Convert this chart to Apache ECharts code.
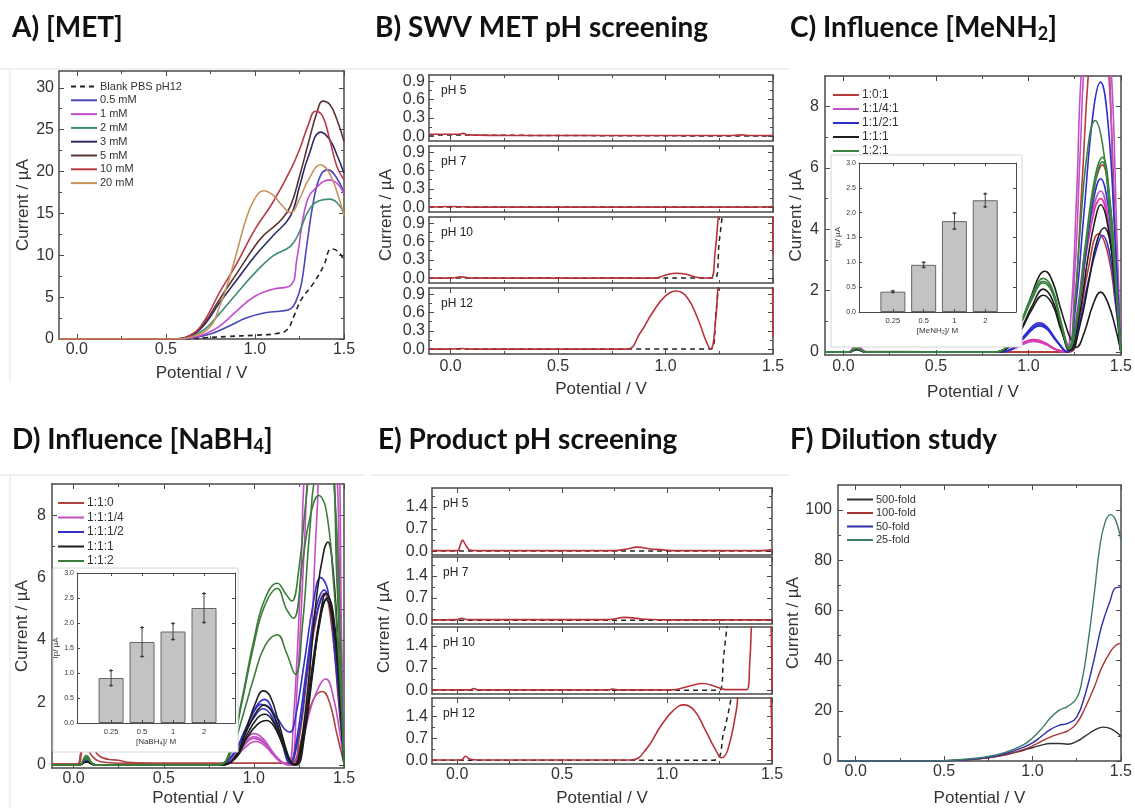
<!DOCTYPE html>
<html><head><meta charset="utf-8">
<script src="https://cdn.jsdelivr.net/npm/echarts@6/dist/echarts.min.js"></script>
<style>html,body{margin:0;padding:0;background:#fff}#c{width:1135px;height:808px}</style>
</head><body><div id="c"></div>
<script>
// ---------- ticks & tick labels ----------
const potTicks = [0, 0.5, 1.0, 1.5];
const potLabels = ['0.0', '0.5', '1.0', '1.5'];
const potMinor = [0.25, 0.75, 1.25];
const aTicks = [0, 5, 10, 15, 20, 25, 30];
const aLabels = ['0', '5', '10', '15', '20', '25', '30'];
const aMinor = [2.5, 7.5, 12.5, 17.5, 22.5, 27.5];
const bTicks = [0, 0.3, 0.6, 0.9];
const bLabels = ['0.0', '0.3', '0.6', '0.9'];
const bMinor = [0.15, 0.45, 0.75];
const cdTicks = [0, 2, 4, 6, 8];
const cdLabels = ['0', '2', '4', '6', '8'];
const cdMinor = [1, 3, 5, 7];
const eTicks = [0, 0.7, 1.4];
const eLabels = ['0.0', '0.7', '1.4'];
const eMinor = [0.35, 1.05, 1.75];
const fTicks = [0, 20, 40, 60, 80, 100];
const fLabels = ['0', '20', '40', '60', '80', '100'];
const fMinor = [10, 30, 50, 70, 90];
const insetTicks = [0, 0.5, 1.0, 1.5, 2.0, 2.5, 3.0];
const insetLabels = ['0.0', '0.5', '1.0', '1.5', '2.0', '2.5', '3.0'];

// ---------- A) [MET] ----------
const aNames = ['Blank PBS pH12', '0.5 mM', '1 mM', '2 mM', '3 mM', '5 mM', '10 mM', '20 mM'];
const A_blank = [[-0.1,0],[0.6,0],[0.72,0.15],[0.85,0.3],[1.0,0.45],[1.12,0.65],[1.18,1.1],[1.22,2.8],[1.26,4.7],[1.33,6.7],[1.385,8.7],[1.43,10.75],[1.47,10.4],[1.5,9.3]];
const A_05 = [[-0.1,0],[0.55,0],[0.65,0.15],[0.75,0.6],[0.85,1.5],[0.95,2.5],[1.05,3.1],[1.15,3.35],[1.2,3.6],[1.23,4.5],[1.26,6.5],[1.29,11],[1.33,16.6],[1.37,19.6],[1.41,20.2],[1.46,19.2],[1.5,17.4]];
const A_1 = [[-0.1,0],[0.55,0],[0.65,0.2],[0.72,0.6],[0.8,1.5],[0.9,3.4],[1.0,5.1],[1.1,5.95],[1.2,6.4],[1.235,9.5],[1.29,16.3],[1.35,18.2],[1.42,19.0],[1.46,18.6],[1.5,17.4]];
const A_2 = [[-0.1,0],[0.55,0],[0.65,0.4],[0.72,1.2],[0.8,3.0],[0.9,5.5],[1.0,7.9],[1.1,9.9],[1.2,11.1],[1.25,12.8],[1.3,15.3],[1.36,16.5],[1.42,16.7],[1.46,16.3],[1.5,15.0]];
const A_3 = [[-0.1,0],[0.55,0],[0.65,0.5],[0.72,1.8],[0.8,4.3],[0.9,7.1],[1.0,9.9],[1.1,12.3],[1.2,14.7],[1.25,18.2],[1.3,21.8],[1.37,24.7],[1.42,23.8],[1.46,22],[1.5,19.8]];
const A_5 = [[-0.1,0],[0.55,0],[0.65,0.6],[0.72,2.0],[0.8,4.7],[0.9,7.9],[1.0,11.1],[1.05,12.4],[1.1,13.3],[1.15,14.3],[1.2,15.9],[1.25,19.4],[1.3,23.4],[1.35,27.2],[1.38,28.4],[1.42,28],[1.46,26.2],[1.5,23.6]];
const A_10 = [[-0.1,0],[0.55,0],[0.65,0.6],[0.72,2.3],[0.8,5.5],[0.9,9.1],[1.0,13.1],[1.1,16.3],[1.2,20.2],[1.25,22.6],[1.3,25.6],[1.34,27.2],[1.38,26.6],[1.42,23.8],[1.46,20.6],[1.5,19]];
const A_20 = [[-0.1,0],[0.55,0],[0.65,0.3],[0.75,1.5],[0.8,3.8],[0.85,6.8],[0.9,10.5],[0.95,14.3],[1.0,16.8],[1.05,17.7],[1.1,17.2],[1.15,16.0],[1.2,15.1],[1.25,16.7],[1.3,19.0],[1.37,20.8],[1.42,19.7],[1.46,17.6],[1.5,14.7]];

// ---------- B) SWV MET pH screening ----------
const bPanels = ['pH 5', 'pH 7', 'pH 10', 'pH 12'];
const B5_red = [[-0.1,0.03],[0.0,0.03],[0.04,0.03],[0.06,0.045],[0.08,0.02],[0.3,0.01],[1.3,0.01],[1.35,0.02],[1.4,0.01],[1.5,0.01]];
const B5_blank = [[-0.1,0.02],[0.5,0.01],[1.5,0.0]];
const B7_red = [[-0.1,0.0],[0.0,0.01],[0.1,0.0],[1.4,0.0],[1.5,0.01]];
const B7_blank = [[-0.1,0],[1.5,0]];
const B10_red = [[-0.1,0.0],[0.0,0.0],[0.05,0.02],[0.1,0.0],[0.95,0.0],[1.0,0.05],[1.05,0.08],[1.1,0.06],[1.15,0.01],[1.21,0.0],[1.23,0.4],[1.25,1.2],[1.3,3],[1.45,3],[1.49,2],[1.5,0.4]];
const B10_blank = [[-0.1,0],[1.23,0],[1.25,0.6],[1.27,1.2]];
const B12_red = [[-0.1,0.0],[0.0,0.0],[0.05,0.01],[0.1,0.0],[0.82,0.0],[0.88,0.25],[0.94,0.6],[1.0,0.87],[1.05,0.95],[1.1,0.85],[1.15,0.5],[1.19,0.12],[1.21,0.0],[1.23,0.35],[1.25,1.3],[1.3,3],[1.45,3],[1.5,0.2]];
const B12_blank = [[-0.1,0],[1.21,0],[1.235,0.6],[1.25,1.3]];

// ---------- C) Influence [MeNH2] ----------
const cNames = ['1:0:1', '1:1/4:1', '1:1/2:1', '1:1:1', '1:2:1'];
const C_red1 = [[-0.1,0],[0.03,0],[0.07,0.1],[0.12,0],[1.21,0],[1.25,1.5],[1.29,5.5],[1.33,9.5],[1.38,12],[1.43,9.5],[1.47,4],[1.5,0]];
const C_red2 = [[-0.1,0],[0.03,0],[0.07,0.15],[0.12,0],[1.22,0],[1.27,1.2],[1.32,3.8],[1.36,5.5],[1.4,6.1],[1.44,4.8],[1.47,2.3],[1.5,0]];
const C_red3 = [[-0.1,0],[0.03,0],[0.07,0.1],[0.12,0],[1.22,0],[1.27,0.9],[1.32,2.6],[1.38,3.85],[1.43,3.2],[1.47,1.6],[1.5,0]];
const C_mag1 = [[-0.1,0],[0.03,0],[0.07,0.32],[0.12,0.02],[0.85,0],[0.92,0.1],[0.98,0.3],[1.03,0.38],[1.09,0.28],[1.15,0.08],[1.2,0],[1.23,1.2],[1.26,5],[1.29,9.5],[1.35,13],[1.42,11],[1.46,5],[1.5,0]];
const C_mag2 = [[-0.1,0],[0.03,0],[0.07,0.25],[0.12,0],[0.85,0],[0.92,0.1],[0.98,0.27],[1.03,0.34],[1.09,0.25],[1.15,0.07],[1.21,0],[1.25,2.5],[1.28,6.5],[1.31,10],[1.38,13],[1.44,10],[1.48,3.5],[1.5,0]];
const C_mag3 = [[-0.1,0],[0.03,0],[0.07,0.22],[0.12,0],[0.85,0],[0.92,0.1],[0.98,0.28],[1.03,0.35],[1.09,0.26],[1.15,0.07],[1.21,0],[1.26,1.2],[1.31,3.5],[1.36,4.9],[1.39,5.25],[1.43,4.4],[1.47,2.0],[1.5,0]];
const C_pink = [[-0.1,0],[0.03,0],[0.07,0.28],[0.12,0],[0.85,0],[0.92,0.12],[0.98,0.33],[1.03,0.4],[1.09,0.3],[1.15,0.08],[1.21,0],[1.26,1.0],[1.31,3.1],[1.36,4.7],[1.39,5.0],[1.43,4.2],[1.47,2.0],[1.5,0]];
const C_blu1 = [[-0.1,0],[0.03,0],[0.07,0.12],[0.12,0],[0.85,0],[0.92,0.15],[0.98,0.55],[1.03,0.88],[1.06,0.95],[1.1,0.82],[1.15,0.4],[1.21,0],[1.25,1.2],[1.3,4.5],[1.35,7.8],[1.39,8.8],[1.43,7.5],[1.47,3.5],[1.5,0]];
const C_blu2 = [[-0.1,0],[0.03,0],[0.07,0.1],[0.12,0],[0.85,0],[0.92,0.14],[0.98,0.5],[1.03,0.82],[1.06,0.9],[1.1,0.78],[1.15,0.38],[1.21,0],[1.26,1.0],[1.31,3.2],[1.35,4.9],[1.39,5.65],[1.43,4.8],[1.47,2.3],[1.5,0]];
const C_blu3 = [[-0.1,0],[0.03,0],[0.07,0.1],[0.12,0],[0.85,0],[0.92,0.13],[0.98,0.47],[1.03,0.78],[1.06,0.85],[1.1,0.74],[1.15,0.36],[1.21,0],[1.27,0.8],[1.32,2.2],[1.37,3.4],[1.4,3.8],[1.44,3.2],[1.47,1.7],[1.5,0]];
const C_blk1 = [[-0.1,0],[0.03,0],[0.07,0.08],[0.12,0],[0.82,0],[0.9,0.25],[0.96,0.95],[1.02,1.9],[1.06,2.5],[1.09,2.63],[1.13,2.3],[1.17,1.5],[1.2,0.9],[1.23,0.4],[1.26,0.15],[1.3,0.6],[1.35,1.55],[1.39,1.95],[1.43,1.6],[1.47,0.8],[1.5,0]];
const C_blk2 = [[-0.1,0],[0.03,0],[0.07,0.08],[0.12,0],[0.82,0],[0.9,0.2],[0.96,0.75],[1.02,1.5],[1.08,2.05],[1.13,1.7],[1.18,0.7],[1.22,0.05],[1.27,1.0],[1.32,3.0],[1.36,4.3],[1.39,4.8],[1.43,4.1],[1.47,2.0],[1.5,0]];
const C_blk3 = [[-0.1,0],[0.03,0],[0.07,0.08],[0.12,0],[0.82,0],[0.9,0.18],[0.96,0.7],[1.02,1.4],[1.08,1.85],[1.13,1.55],[1.18,0.65],[1.23,0.05],[1.28,0.9],[1.33,2.4],[1.37,3.6],[1.41,4.05],[1.45,3.3],[1.48,1.6],[1.5,0]];
const C_grn1 = [[-0.1,0],[0.03,0],[0.07,0.15],[0.12,0],[0.82,0],[0.9,0.3],[0.96,1.0],[1.02,1.85],[1.08,2.4],[1.13,2.05],[1.18,0.9],[1.22,0.15],[1.25,1.5],[1.28,4.0],[1.32,6.6],[1.36,7.55],[1.4,6.8],[1.44,4.5],[1.48,1.5],[1.5,0]];
const C_grn2 = [[-0.1,0],[0.03,0],[0.07,0.12],[0.12,0],[0.82,0],[0.9,0.28],[0.96,0.95],[1.02,1.78],[1.08,2.3],[1.13,1.98],[1.18,0.85],[1.22,0.1],[1.26,1.0],[1.31,3.6],[1.36,5.7],[1.4,6.35],[1.44,5.0],[1.48,1.8],[1.5,0]];
const C_grn3 = [[-0.1,0],[0.03,0],[0.07,0.12],[0.12,0],[0.82,0],[0.9,0.27],[0.96,0.92],[1.02,1.72],[1.08,2.25],[1.13,1.92],[1.18,0.82],[1.22,0.1],[1.26,0.95],[1.31,3.4],[1.36,5.5],[1.4,6.2],[1.44,4.9],[1.48,1.8],[1.5,0]];
// inset C
const mehCats = ['0.25', '0.5', '1', '2'];
const mehVals = [0.41, 0.95, 1.83, 2.25];
const mehErr = [0.015, 0.05, 0.16, 0.13];

// ---------- D) Influence [NaBH4] ----------
const dNames = ['1:1:0', '1:1:1/4', '1:1:1/2', '1:1:1', '1:1:2'];
const D_red1 = [[-0.12,0.03],[0.02,0.03],[0.04,0.4],[0.07,0.85],[0.1,0.65],[0.14,0.3],[0.2,0.17],[0.25,0.15],[0.3,0.08],[0.5,0.05],[1.2,0.05],[1.24,0.3],[1.28,1.2],[1.33,2.1],[1.38,2.35],[1.42,2.0],[1.46,1.0],[1.5,0.05]];
const D_red2 = [[-0.12,0.03],[0.02,0.03],[0.05,0.5],[0.07,0.55],[0.1,0.3],[0.15,0.1],[0.3,0.05],[1.21,0.05],[1.25,0.8],[1.3,3.0],[1.35,4.8],[1.39,5.5],[1.43,4.5],[1.47,2.0],[1.5,0.05]];
const D_mag1 = [[-0.12,0],[0.03,0],[0.07,0.2],[0.12,0],[0.8,0],[0.88,0.2],[0.94,0.7],[1.0,1.0],[1.05,0.85],[1.1,0.45],[1.15,0.12],[1.19,0],[1.22,1.5],[1.26,6],[1.29,10],[1.36,12],[1.44,11],[1.48,5],[1.5,0]];
const D_mag2 = [[-0.12,0],[0.03,0],[0.07,0.15],[0.12,0],[0.8,0],[0.88,0.18],[0.94,0.62],[1.0,0.9],[1.05,0.78],[1.1,0.4],[1.15,0.1],[1.2,0],[1.24,2.5],[1.28,7],[1.31,10],[1.38,12],[1.43,10.5],[1.47,5],[1.5,0]];
const D_mag3 = [[-0.12,0],[0.03,0],[0.07,0.15],[0.12,0],[0.8,0],[0.88,0.16],[0.94,0.58],[1.0,0.85],[1.05,0.73],[1.1,0.38],[1.15,0.1],[1.21,0],[1.26,0.6],[1.32,1.9],[1.37,2.6],[1.4,2.75],[1.44,2.2],[1.48,0.9],[1.5,0]];
const D_mag4 = [[-0.12,0],[0.03,0],[0.07,0.12],[0.12,0],[0.8,0],[0.88,0.14],[0.95,0.55],[1.01,0.75],[1.06,0.62],[1.11,0.3],[1.16,0.06],[1.22,0],[1.27,0.6],[1.31,3],[1.35,8],[1.39,11],[1.45,11],[1.49,3],[1.5,0]];
const D_blu1 = [[-0.12,0],[0.03,0],[0.07,0.15],[0.12,0],[0.8,0],[0.88,0.3],[0.95,1.1],[1.0,1.7],[1.04,1.94],[1.08,1.85],[1.13,1.5],[1.17,1.15],[1.2,1.05],[1.23,1.5],[1.28,3.3],[1.33,5.2],[1.37,6.0],[1.41,5.6],[1.45,3.5],[1.48,1.5],[1.5,0]];
const D_blu2 = [[-0.12,0],[0.03,0],[0.07,0.12],[0.12,0],[0.8,0],[0.88,0.3],[0.95,1.1],[1.01,1.85],[1.06,2.1],[1.1,1.8],[1.15,0.9],[1.2,0.05],[1.24,0.9],[1.29,3.0],[1.34,4.9],[1.39,5.6],[1.43,4.9],[1.47,2.5],[1.5,0]];
const D_blu3 = [[-0.12,0],[0.03,0],[0.07,0.1],[0.12,0],[0.8,0],[0.88,0.28],[0.95,1.0],[1.01,1.6],[1.05,1.8],[1.1,1.55],[1.15,0.8],[1.2,0.05],[1.25,1.0],[1.3,3.2],[1.35,4.9],[1.4,5.5],[1.44,4.6],[1.48,2.0],[1.5,0]];
const D_blk1 = [[-0.12,0],[0.03,0],[0.07,0.1],[0.12,0],[0.82,0],[0.9,0.3],[0.96,1.2],[1.01,2.0],[1.05,2.37],[1.09,2.2],[1.14,1.3],[1.19,0.3],[1.22,0],[1.25,0.3],[1.3,2.5],[1.35,5.5],[1.39,6.9],[1.41,7.14],[1.44,6.2],[1.47,3.5],[1.5,0]];
const D_blk2 = [[-0.12,0],[0.03,0],[0.07,0.1],[0.12,0],[0.82,0],[0.9,0.25],[0.96,0.95],[1.02,1.5],[1.06,1.62],[1.1,1.45],[1.15,0.8],[1.2,0.1],[1.23,0],[1.27,0.8],[1.32,3.0],[1.37,4.9],[1.4,5.5],[1.44,4.7],[1.48,2.0],[1.5,0]];
const D_blk3 = [[-0.12,0],[0.03,0],[0.07,0.1],[0.12,0],[0.82,0],[0.9,0.22],[0.96,0.85],[1.02,1.3],[1.07,1.42],[1.11,1.25],[1.16,0.65],[1.21,0.05],[1.24,0],[1.28,0.9],[1.33,3.1],[1.37,4.8],[1.41,5.35],[1.45,4.4],[1.48,2.0],[1.5,0]];
const D_blk4 = [[-0.12,0],[0.03,0],[0.07,0.1],[0.12,0],[0.82,0],[0.9,0.28],[0.96,1.1],[1.02,1.75],[1.06,1.92],[1.1,1.7],[1.15,0.95],[1.2,0.15],[1.23,0],[1.27,0.7],[1.32,2.8],[1.37,4.7],[1.4,5.3],[1.44,4.5],[1.48,1.9],[1.5,0]];
const D_grn1 = [[-0.12,0],[0.03,0],[0.07,0.3],[0.12,0],[0.8,0],[0.87,0.5],[0.93,2.0],[1.0,4.0],[1.06,5.3],[1.13,5.82],[1.18,5.45],[1.21,5.25],[1.25,6.3],[1.29,8.5],[1.33,10.2],[1.4,10.5],[1.45,8.5],[1.48,4],[1.5,0]];
const D_grn2 = [[-0.12,0],[0.03,0],[0.07,0.25],[0.12,0],[0.8,0],[0.87,0.45],[0.93,1.9],[1.0,3.85],[1.06,5.1],[1.13,5.65],[1.18,5.0],[1.22,4.7],[1.27,6.5],[1.31,7.9],[1.36,8.63],[1.4,8.2],[1.44,6.0],[1.48,2.5],[1.5,0]];
const D_grn3 = [[-0.12,0],[0.03,0],[0.07,0.2],[0.12,0],[0.8,0],[0.87,0.35],[0.93,1.4],[1.0,2.8],[1.06,3.8],[1.13,4.17],[1.18,3.6],[1.23,2.9],[1.27,4.5],[1.31,7.5],[1.35,9.5],[1.42,10],[1.46,6],[1.5,0]];
// inset D
const nabCats = ['0.25', '0.5', '1', '2'];
const nabVals = [0.9, 1.62, 1.83, 2.3];
const nabErr = [0.15, 0.29, 0.16, 0.29];

// ---------- E) Product pH screening ----------
const E5_red = [[-0.12,0.02],[0.0,0.02],[0.015,0.2],[0.025,0.35],[0.04,0.2],[0.06,0.04],[0.1,0.02],[0.75,0.02],[0.8,0.06],[0.86,0.13],[0.92,0.07],[0.97,0.05],[1.02,0.02],[1.45,0.02],[1.5,0.05]];
const E5_blank = [[-0.12,0.01],[1.5,0.01]];
const E7_red = [[-0.12,0.01],[0.0,0.02],[0.02,0.06],[0.05,0.02],[0.72,0.02],[0.8,0.09],[0.88,0.04],[1.0,0.01],[1.5,0.01]];
const E7_blank = [[-0.12,0],[1.5,0]];
const E10_red = [[-0.12,0.01],[0.06,0.01],[0.08,0.05],[0.1,0.01],[0.72,0.01],[0.74,0.04],[0.77,0.01],[1.02,0.01],[1.1,0.12],[1.17,0.21],[1.23,0.12],[1.28,0.02],[1.38,0.02],[1.395,1.0],[1.41,2.5],[1.47,4],[1.49,3],[1.5,0]];
const E10_blank = [[-0.12,0],[1.25,0],[1.27,1.1],[1.29,2.3]];
const E12_red = [[-0.12,0.01],[0.02,0.01],[0.04,0.13],[0.06,0.04],[0.1,0.01],[0.83,0.01],[0.9,0.35],[0.97,1.1],[1.03,1.6],[1.08,1.78],[1.13,1.6],[1.18,1.0],[1.23,0.35],[1.26,0.08],[1.29,0.35],[1.33,1.6],[1.35,2.5],[1.48,4],[1.495,2],[1.5,0.0]];
const E12_blank = [[-0.12,0],[1.22,0],[1.27,0.9],[1.31,2.2]];

// ---------- F) Dilution study ----------
const fNames = ['500-fold', '100-fold', '50-fold', '25-fold'];
const F_500 = [[-0.1,0],[0.45,0],[0.55,0.2],[0.65,0.6],[0.75,1.3],[0.85,2.5],[0.95,4.3],[1.0,5.3],[1.05,6.3],[1.1,7],[1.15,7],[1.2,6.7],[1.25,7.8],[1.3,10],[1.35,12.3],[1.4,13.5],[1.45,12.6],[1.5,9.9]];
const F_100 = [[-0.1,0],[0.45,0],[0.55,0.2],[0.65,0.6],[0.75,1.3],[0.85,2.6],[0.95,4.6],[1.0,6],[1.05,7.8],[1.1,9.5],[1.15,10.8],[1.2,12],[1.25,15],[1.3,21.5],[1.35,29.5],[1.39,37],[1.44,43.5],[1.47,46],[1.5,47]];
const F_50 = [[-0.1,0],[0.45,0],[0.55,0.2],[0.65,0.7],[0.75,1.5],[0.85,3],[0.95,5.5],[1.0,7.2],[1.05,9.8],[1.1,12.5],[1.15,14.2],[1.2,15],[1.25,17.5],[1.3,27],[1.35,41],[1.39,53.5],[1.44,64],[1.47,69],[1.5,69.3]];
const F_25 = [[-0.1,0],[0.45,0],[0.55,0.3],[0.65,0.9],[0.75,1.8],[0.85,3.5],[0.95,6.5],[1.0,9.2],[1.05,12.8],[1.1,17],[1.15,20.2],[1.2,21.8],[1.25,25],[1.28,32],[1.31,45],[1.35,67],[1.38,85],[1.41,95],[1.44,98.2],[1.47,96],[1.5,88]];

// ================= build =================
const SANS = '"Liberation Sans", Arial, sans-serif';
const TXT = '#333';
const FRAME = '#4a4a4a';
const grids = [], xAxes = [], yAxes = [], series = [], legends = [], gfx = [];

function lab(ticks, labels) {
  return v => { for (let i = 0; i < ticks.length; i++) if (Math.abs(ticks[i] - v) < 1e-9) return labels[i]; return ''; };
}
function mkAxis(gi, s, pos, main, z) {
  return {
    type: 'value', gridIndex: gi, position: pos, min: s.min, max: s.max, z: z,
    axisLine: { show: true, onZero: false, lineStyle: { color: FRAME, width: s.lw || 1.5 } },
    axisTick: { show: true, inside: true, length: s.tl || 5, customValues: s.ticks, lineStyle: { color: FRAME, width: 1 } },
    axisLabel: { show: main && !!s.labels, customValues: s.ticks, formatter: s.labels ? lab(s.ticks, s.labels) : '',
      margin: s.margin == null ? 4 : s.margin, fontSize: s.fs || 16, color: TXT, fontFamily: SANS },
    splitLine: { show: false },
    name: main ? (s.name || '') : '', nameLocation: 'middle', nameGap: s.gap || 25,
    nameTextStyle: { fontSize: s.nfs || 17, color: TXT, fontFamily: SANS }
  };
}
function mkMinor(gi, s, pos, z) {
  return { type: 'value', gridIndex: gi, position: pos, min: s.min, max: s.max, z: z,
    axisLine: { show: false, onZero: false }, axisLabel: { show: false }, splitLine: { show: false },
    axisTick: { show: true, inside: true, length: 3, customValues: s.minor, lineStyle: { color: FRAME, width: 1 } } };
}
function panel(rect, xs, ys, z) {
  z = z || 0;
  const gi = grids.length;
  grids.push({ left: rect[0], top: rect[1], width: rect[2], height: rect[3], z: z, show: false });
  const xi = xAxes.length, yi = yAxes.length;
  xAxes.push(mkAxis(gi, xs, 'bottom', true, z), mkAxis(gi, xs, 'top', false, z));
  yAxes.push(mkAxis(gi, ys, 'left', true, z), mkAxis(gi, ys, 'right', false, z));
  if (xs.minor) xAxes.push(mkMinor(gi, xs, 'bottom', z), mkMinor(gi, xs, 'top', z));
  if (ys.minor) yAxes.push(mkMinor(gi, ys, 'left', z), mkMinor(gi, ys, 'right', z));
  return { xi: xi, yi: yi };
}
function addLine(p, name, data, color, o) {
  o = o || {};
  series.push({ type: 'line', name: name, data: data, xAxisIndex: p.xi, yAxisIndex: p.yi,
    symbol: 'none', smooth: 0.45, clip: true, silent: true, z: o.z || 2,
    lineStyle: { color: color, width: o.w || 1.6, type: o.dash ? [5, 4] : 'solid' }, itemStyle: { color: color } });
}
function addLegend(names, left, top, fs, gap) {
  legends.push({ data: names, left: left, top: top, orient: 'vertical', padding: 0, itemGap: gap,
    itemWidth: 26, itemHeight: 10, selectedMode: false, itemStyle: { opacity: 0, borderWidth: 0 },
    textStyle: { fontSize: fs, color: TXT, fontFamily: SANS, padding: [0, 0, 0, -2] } });
}
function addInset(rect, outer, cats, vals, errs, xname) {
  gfx.push({ type: 'rect', shape: { x: outer[0], y: outer[1], width: outer[2], height: outer[3] },
    style: { fill: '#fff', stroke: '#d6d6d6', lineWidth: 1 }, z: 15 });
  const xs = { min: -0.1, max: 5, ticks: [1, 2, 3, 4], labels: cats, fs: 7.5, margin: 5, tl: 3, lw: 1,
    name: xname, gap: 15, nfs: 8 };
  const ys = { min: 0, max: 3, ticks: insetTicks, labels: insetLabels, fs: 7, margin: 3, tl: 3, lw: 1,
    name: 'Ip/ µA', gap: 17, nfs: 8 };
  const p = panel(rect, xs, ys, 30);
  series.push({ type: 'bar', data: vals.map((v, i) => [i + 1, v]), xAxisIndex: p.xi, yAxisIndex: p.yi,
    barWidth: 25, z: 30, silent: true, itemStyle: { color: '#c3c3c3', borderColor: '#666', borderWidth: 1 } });
  series.push({ type: 'custom', data: vals.map((v, i) => [i + 1, v, errs[i]]), xAxisIndex: p.xi, yAxisIndex: p.yi,
    z: 31, silent: true,
    renderItem: function (params, api) {
      const x = api.value(0), y = api.value(1), e = api.value(2);
      const t = api.coord([x, y + e]), b = api.coord([x, y - e]);
      const st = { stroke: '#444', lineWidth: 1 };
      return { type: 'group', children: [
        { type: 'line', shape: { x1: t[0], y1: t[1], x2: b[0], y2: b[1] }, style: st },
        { type: 'line', shape: { x1: t[0] - 2, y1: t[1], x2: t[0] + 2, y2: t[1] }, style: st },
        { type: 'line', shape: { x1: b[0] - 2, y1: b[1], x2: b[0] + 2, y2: b[1] }, style: st },
        { type: 'circle', shape: { cx: t[0], cy: t[1], r: 1.2 }, style: { fill: '#444' } },
        { type: 'circle', shape: { cx: b[0], cy: b[1], r: 1.2 }, style: { fill: '#444' } }
      ] };
    } });
}
function title(x, y, text, rich) {
  gfx.push({ type: 'text', x: x, y: y, z: 50, style: { text: text, fill: '#111', fontFamily: 'Lato, "Open Sans", sans-serif',
    fontWeight: 'bold', fontSize: 28, verticalAlign: 'middle', rich: rich || {} } });
}
function vtext(x, y, text) {
  gfx.push({ type: 'text', x: x, y: y, rotation: Math.PI / 2, z: 50,
    style: { text: text, fill: TXT, fontFamily: SANS, fontSize: 17, align: 'center', verticalAlign: 'middle' } });
}
function hline(x1, x2, y) { gfx.push({ type: 'line', shape: { x1: x1, y1: y, x2: x2, y2: y }, style: { stroke: '#e3e3e3', lineWidth: 1 }, z: 1 }); }
function vline(x, y1, y2) { gfx.push({ type: 'line', shape: { x1: x, y1: y1, x2: x, y2: y2 }, style: { stroke: '#e3e3e3', lineWidth: 1 }, z: 1 }); }

const xPot = (min, name, gap, margin) => ({ min: min, max: 1.5, ticks: potTicks, minor: potMinor, labels: name ? potLabels : null, name: name ? 'Potential / V' : '', gap: gap, margin: margin });

// ---- A ----
const pA = panel([59, 71, 285, 268], xPot(-0.1, true, 26, 3), { min: 0, max: 32, ticks: aTicks, minor: aMinor, labels: aLabels, name: 'Current / µA', gap: 23, margin: 5 });
const aColors = ['#222', '#4848b8', '#c44ccc', '#3e8c78', '#2c2c62', '#5e3232', '#b83a48', '#c8925c'];
const aData = [A_blank, A_05, A_1, A_2, A_3, A_5, A_10, A_20];
aData.forEach((d, i) => addLine(pA, aNames[i], d, aColors[i], { dash: i === 0 }));
addLegend(aNames, 70, 81, 11, 2.8);

// ---- B ----
const bTops = [75, 146, 217, 288];
const bRed = [B5_red, B7_red, B10_red, B12_red];
const bBlank = [B5_blank, B7_blank, B10_blank, B12_blank];
bTops.forEach((t, i) => {
  const last = i === 3;
  const p = panel([429, t, 344, 66], xPot(-0.1, last, 27, 5), { min: -0.08, max: 1.0, ticks: bTicks, minor: bMinor, labels: bLabels, margin: 4 });
  addLine(p, '', bBlank[i], '#222', { dash: true, w: 1.5 });
  addLine(p, '', bRed[i], '#b8323c', { w: 1.6 });
  gfx.push({ type: 'text', x: 441, y: t + 16, z: 50, style: { text: bPanels[i], fill: '#222', fontFamily: SANS, fontSize: 12, verticalAlign: 'middle' } });
});
vtext(386, 215, 'Current / µA');

// ---- C ----
const pC = panel([825, 76, 301, 279], xPot(-0.1, true, 29, 4), { min: -0.1, max: 9, ticks: cdTicks, minor: cdMinor, labels: cdLabels, name: 'Current / µA', gap: 20, margin: 6 });
const cRed = '#b83a3a', cMag = '#c052c6', cBlu = '#2d2dd0', cBlk = '#1c1c1c', cGrn = '#3a8242', cPink = '#ec2aa0';
addLine(pC, cNames[0], C_red1, cRed); addLine(pC, cNames[0], C_red2, cRed); addLine(pC, cNames[0], C_red3, cRed);
addLine(pC, cNames[1], C_mag1, cMag); addLine(pC, cNames[1], C_mag2, cMag); addLine(pC, cNames[1], C_mag3, cMag); addLine(pC, cNames[1], C_pink, cPink);
addLine(pC, cNames[2], C_blu1, cBlu); addLine(pC, cNames[2], C_blu2, cBlu); addLine(pC, cNames[2], C_blu3, cBlu);
addLine(pC, cNames[3], C_blk1, cBlk); addLine(pC, cNames[3], C_blk2, cBlk); addLine(pC, cNames[3], C_blk3, cBlk);
addLine(pC, cNames[4], C_grn1, cGrn); addLine(pC, cNames[4], C_grn2, cGrn); addLine(pC, cNames[4], C_grn3, cGrn);
addLegend(cNames, 832, 89, 12, 2);
addInset([859, 163, 157, 149], [831, 155, 191, 192], mehCats, mehVals, mehErr, '[MeNH₂]/ M');

// ---- D ----
const pD = panel([52, 484, 292, 285], xPot(-0.12, true, 22, 3), { min: -0.1, max: 9, ticks: cdTicks, minor: cdMinor, labels: cdLabels, name: 'Current / µA', gap: 21, margin: 6 });
const dRed = '#b04242', dMag = '#c24fc2', dBlu = '#3030c4', dBlk = '#1c1c1c', dGrn = '#3b7c3b';
addLine(pD, dNames[0], D_red1, dRed); addLine(pD, dNames[0], D_red2, dRed);
addLine(pD, dNames[1], D_mag1, dMag); addLine(pD, dNames[1], D_mag2, dMag); addLine(pD, dNames[1], D_mag3, dMag); addLine(pD, dNames[1], D_mag4, dMag);
addLine(pD, dNames[2], D_blu1, dBlu); addLine(pD, dNames[2], D_blu2, dBlu); addLine(pD, dNames[2], D_blu3, dBlu);
addLine(pD, dNames[3], D_blk1, dBlk); addLine(pD, dNames[3], D_blk2, dBlk); addLine(pD, dNames[3], D_blk3, dBlk); addLine(pD, dNames[3], D_blk4, dBlk);
addLine(pD, dNames[4], D_grn1, dGrn); addLine(pD, dNames[4], D_grn2, dGrn); addLine(pD, dNames[4], D_grn3, dGrn);
addLegend(dNames, 57, 497, 12, 2.5);
addInset([77, 573, 158, 150], [53, 568, 185, 184], nabCats, nabVals, nabErr, '[NaBH₄]/ M');

// ---- E ----
const eTops = [488, 557, 627, 698];
const eRed = [E5_red, E7_red, E10_red, E12_red];
const eBlank = [E5_blank, E7_blank, E10_blank, E12_blank];
eTops.forEach((t, i) => {
  const last = i === 3;
  const p = panel([432, t, 340, 67], xPot(-0.12, last, 26, 3), { min: -0.12, max: 2.0, ticks: eTicks, minor: eMinor, labels: eLabels, margin: 4 });
  addLine(p, '', eBlank[i], '#222', { dash: true, w: 1.5 });
  addLine(p, '', eRed[i], '#b8323c', { w: 1.6 });
  gfx.push({ type: 'text', x: 443, y: t + 16, z: 50, style: { text: bPanels[i], fill: '#222', fontFamily: SANS, fontSize: 12, verticalAlign: 'middle' } });
});
vtext(384, 627, 'Current / µA');

// ---- F ----
const pF = panel([838, 485, 288, 277], xPot(-0.1, true, 29, 3), { min: 0, max: 110, ticks: fTicks, minor: fMinor, labels: fLabels, name: 'Current / µA', gap: 26, margin: 6 });
const fColors = ['#333', '#a83434', '#2e2eaa', '#3e7a6a'];
[F_500, F_100, F_50, F_25].forEach((d, i) => addLine(pF, fNames[i], d, fColors[i], { w: 1.4 }));
addLegend(fNames, 846, 494, 11, 2.5);

// ---- titles & frames ----
const subRich = { s: { fontSize: 18, fontWeight: 'bold', fontFamily: 'Lato, sans-serif', fill: '#111', padding: [13, 0, 0, 0] } };
title(12, 28, 'A) [MET]');
title(375, 28, 'B) SWV MET pH screening');
title(790, 28, 'C) Influence [MeNH{s|2}]', subRich);
title(12, 440, 'D) Influence [NaBH{s|4}]', subRich);
title(378, 440, 'E) Product pH screening');
title(790, 440, 'F) Dilution study');
hline(0, 790, 69); vline(10, 69, 382);
hline(0, 365, 475); vline(10, 475, 808); hline(370, 790, 475);

const chart = echarts.init(document.getElementById('c'), null, { renderer: 'canvas' });
chart.setOption({ animation: false, backgroundColor: '#fff', grid: grids, xAxis: xAxes, yAxis: yAxes,
  series: series, legend: legends, graphic: { elements: gfx } });
</script></body></html>
